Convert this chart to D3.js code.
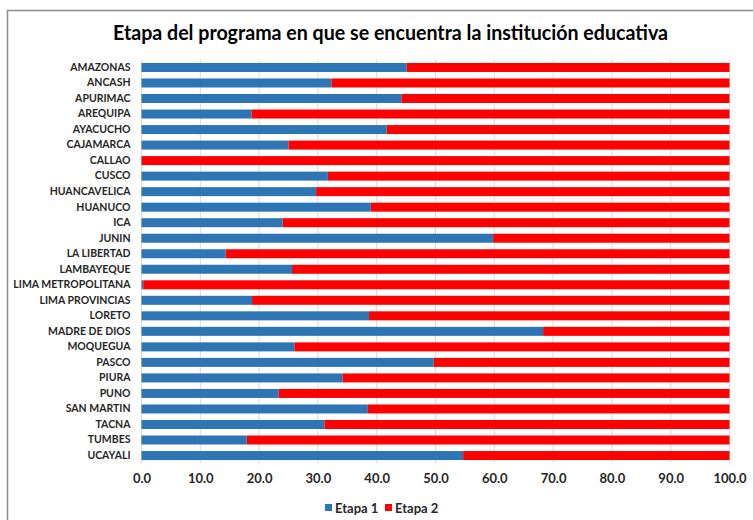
<!DOCTYPE html>
<html><head><meta charset="utf-8">
<script src="https://cdn.jsdelivr.net/npm/d3@7/dist/d3.min.js"></script>
<style>body{margin:0;background:#fff}svg{display:block}</style>
</head><body>
<svg id="c" width="753" height="520"></svg>
<script>
const categories = ["AMAZONAS","ANCASH","APURIMAC","AREQUIPA","AYACUCHO","CAJAMARCA","CALLAO","CUSCO","HUANCAVELICA","HUANUCO","ICA","JUNIN","LA LIBERTAD","LAMBAYEQUE","LIMA METROPOLITANA","LIMA PROVINCIAS","LORETO","MADRE DE DIOS","MOQUEGUA","PASCO","PIURA","PUNO","SAN MARTIN","TACNA","TUMBES","UCAYALI"];
const etapa1 = [45.1,32.3,44.2,18.7,41.7,25.0,0.0,31.7,29.7,39.0,24.0,59.8,14.3,25.6,0.3,18.8,38.7,68.3,26.0,49.7,34.2,23.3,38.5,31.1,17.9,54.7];
const etapa2 = [54.9,67.7,55.8,81.3,58.3,75.0,100.0,68.3,70.3,61.0,76.0,40.2,85.7,74.4,99.7,81.2,61.3,31.7,74.0,50.3,65.8,76.7,61.5,68.9,82.1,45.3];
const tickValues = [0,10,20,30,40,50,60,70,80,90,100];
const seriesNames = ["Etapa 1","Etapa 2"];
const colors = ["#2e75b6","#ff0000"];
const title = "Etapa del programa en que se encuentra la institución educativa";

const svg = d3.select("#c");
const font = "Lato, 'Open Sans', sans-serif";

// frame
svg.append("path").attr("d","M7.5,525 V10.5 H760").attr("fill","none").attr("stroke","#8c8c8c").attr("stroke-width",1.5);

const x = d3.scaleLinear().domain([0,100]).range([141.5,729.5]);
const y = d3.scaleBand().domain(categories).range([59.7,463.3]).paddingInner(0.42).paddingOuter(0.21);

// gridlines
svg.append("g").selectAll("line").data(tickValues).join("line")
  .attr("x1",d=>x(d)).attr("x2",d=>x(d)).attr("y1",59.7).attr("y2",463.3)
  .attr("stroke","#d9d9d9").attr("stroke-width",1);

const stacked = categories.map((c,i)=>({c, v:[etapa1[i],etapa2[i]]}));
const series = seriesNames.map((s,k)=>stacked.map(d=>({c:d.c, x0: k===0?0:d.v[0], x1: k===0?d.v[0]:d.v[0]+d.v[1]})));

series.forEach((s,k)=>{
  svg.append("g").selectAll("rect").data(s).join("rect")
    .attr("x",d=>x(d.x0)).attr("width",d=>Math.max(0,x(d.x1)-x(d.x0)))
    .attr("y",d=>y(d.c)).attr("height",y.bandwidth())
    .attr("fill",colors[k]);
});

// y axis labels
const ya = svg.append("g").attr("transform","translate(141.5,0)")
  .call(d3.axisLeft(y).tickSize(0).tickPadding(11));
ya.select(".domain").remove();
ya.selectAll("text").attr("font-family",font).attr("font-weight","bold").attr("font-size","10.5px").attr("fill","#262626");

// x axis labels
const xa = svg.append("g").attr("transform","translate(0,463.3)")
  .call(d3.axisBottom(x).tickValues(tickValues).tickFormat(d3.format(".1f")).tickSize(0).tickPadding(10));
xa.select(".domain").remove();
xa.selectAll("text").attr("font-family",font).attr("font-weight","bold").attr("font-size","13px").attr("fill","#262626");

// title
svg.append("text").attr("x",390.5).attr("y",40).attr("text-anchor","middle")
  .attr("font-family",font).attr("font-weight","bold").attr("font-size","20.5px").attr("fill","#000")
  .attr("textLength",555).attr("lengthAdjust","spacingAndGlyphs").text(title);

// legend
const legX = [325, 385];
const lg = svg.append("g");
seriesNames.forEach((s,k)=>{
  lg.append("rect").attr("x",legX[k]).attr("y",504).attr("width",7).attr("height",7).attr("fill",colors[k]);
  lg.append("text").attr("x",legX[k]+10).attr("y",512.5).attr("font-family",font).attr("font-weight","bold")
    .attr("font-size","13px").attr("fill","#262626").text(s);
});
</script>
</body></html>
